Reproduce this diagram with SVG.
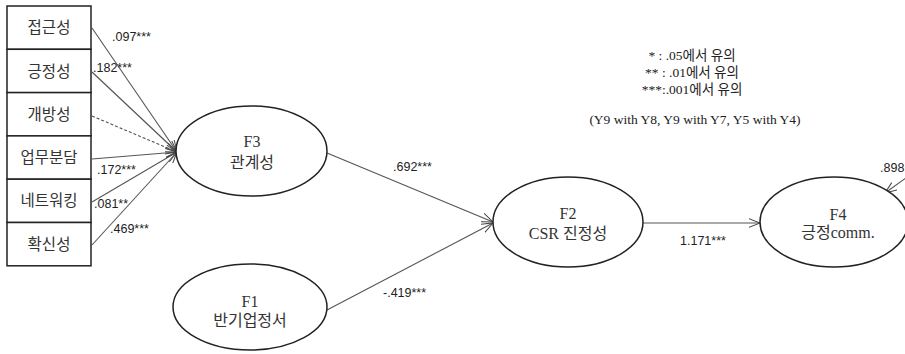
<svg xmlns="http://www.w3.org/2000/svg" width="905" height="354" viewBox="0 0 905 354">
<style>
.box{fill:#fff;stroke:#222;stroke-width:1.5}
.ell{fill:#fff;stroke:#222;stroke-width:1.5}
.bt{font-family:"Noto Sans CJK KR","Noto Sans",sans-serif;font-size:15.5px;fill:#333;text-anchor:middle}
.et{font-family:"Liberation Serif","Noto Sans CJK KR",serif;font-size:16px;fill:#333;text-anchor:middle}
.lbl{font-family:"Liberation Sans",Arial,sans-serif;font-size:12.5px;fill:#222}
.lg{font-family:"Liberation Serif","Noto Sans CJK KR",serif;font-size:13.5px;fill:#222;text-anchor:middle}
.ln{stroke:#555;stroke-width:1.1;fill:none;marker-end:url(#ah)}
.dash{stroke-dasharray:3 2}
</style>
<defs>
<marker id="ah" viewBox="0 0 12 10" refX="11.5" refY="5" markerWidth="12" markerHeight="10" markerUnits="userSpaceOnUse" orient="auto">
<path d="M0,0.5 L11.5,5 L0,9.5" fill="none" stroke="#444" stroke-width="1"/>
</marker>
</defs>
<g id="connectors">
<line class="ln" x1="92" y1="28" x2="177" y2="152"/>
<line class="ln" x1="92" y1="72" x2="177" y2="152"/>
<line class="ln dash" x1="92" y1="116" x2="177" y2="152"/>
<line class="ln" x1="92" y1="159" x2="177" y2="152"/>
<line class="ln" x1="92" y1="202" x2="177" y2="152"/>
<line class="ln" x1="92" y1="245" x2="177" y2="152"/>
<line class="ln" x1="327" y1="153" x2="493" y2="222"/>
<line class="ln" x1="327" y1="310" x2="493" y2="223"/>
<line class="ln" x1="643" y1="223" x2="760" y2="223"/>
<line class="ln" x1="910" y1="175" x2="885" y2="193"/>
</g>
<g id="labels">
<text class="lbl" x="112" y="41">.097***</text>
<text class="lbl" x="93" y="72">.182***</text>
<text class="lbl" x="97" y="174">.172***</text>
<text class="lbl" x="94" y="208">.081**</text>
<text class="lbl" x="110" y="233">.469***</text>
<text class="lbl" x="393" y="171">.692***</text>
<text class="lbl" x="383" y="297">-.419***</text>
<text class="lbl" x="680" y="245">1.171***</text>
<text class="lbl" x="880" y="172">.898</text>
</g>
<g id="box1"><rect class="box" x="7" y="6" width="84" height="43.3"/><text class="bt" x="49" y="33">접근성</text></g>
<g id="box2"><rect class="box" x="7" y="49.3" width="84" height="43.3"/><text class="bt" x="49" y="77">긍정성</text></g>
<g id="box3"><rect class="box" x="7" y="92.6" width="84" height="43.3"/><text class="bt" x="49" y="120">개방성</text></g>
<g id="box4"><rect class="box" x="7" y="135.9" width="84" height="43.3"/><text class="bt" x="49" y="163">업무분담</text></g>
<g id="box5"><rect class="box" x="7" y="179.2" width="84" height="43.3"/><text class="bt" x="49" y="206">네트워킹</text></g>
<g id="box6"><rect class="box" x="7" y="222.5" width="84" height="43.3"/><text class="bt" x="49" y="250">확신성</text></g>
<g id="F3"><ellipse class="ell" cx="251.5" cy="151" rx="75.5" ry="45"/><text class="et" x="252" y="147">F3</text><text class="et" x="252" y="168">관계성</text></g>
<g id="F1"><ellipse class="ell" cx="250" cy="307" rx="77" ry="43"/><text class="et" x="250" y="307">F1</text><text class="et" x="250" y="326">반기업정서</text></g>
<g id="F2"><ellipse class="ell" cx="568" cy="222" rx="75" ry="45"/><text class="et" x="568" y="219">F2</text><text class="et" x="568" y="239">CSR 진정성</text></g>
<g id="F4"><ellipse class="ell" cx="834" cy="222" rx="74" ry="45"/><text class="et" x="838" y="220">F4</text><text class="et" x="838" y="238">긍정comm.</text></g>
<g id="legend">
<text class="lg" x="692" y="60">* : .05에서 유의</text>
<text class="lg" x="692" y="77">** : .01에서 유의</text>
<text class="lg" x="692" y="94">***:.001에서 유의</text>
<text class="lg" x="695" y="124">(Y9 with Y8, Y9 with Y7, Y5 with Y4)</text>
</g>
</svg>
